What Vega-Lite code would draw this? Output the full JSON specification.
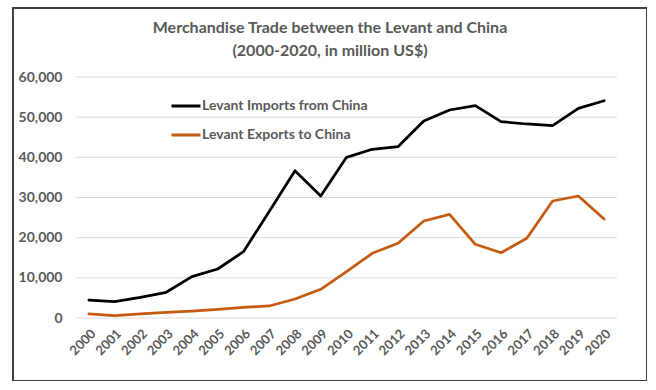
{
  "$schema": "https://vega.github.io/schema/vega-lite/v6.json",
  "autosize": {"type": "none"},
  "padding": {"left": 13, "top": 8, "right": 0, "bottom": 0},
  "width": 634,
  "height": 373,
  "background": "white",
  "title": {
    "text": ["Merchandise Trade between the Levant and China", "(2000-2020, in million US$)"],
    "anchor": "middle",
    "frame": "group",
    "font": "Lato",
    "fontSize": 16,
    "fontWeight": "bold",
    "color": "#595959",
    "lineHeight": 23,
    "offset": -51
  },
  "config": {
    "view": {"stroke": "#404040", "strokeWidth": 2},
    "axis": {"labelFont": "Lato", "labelColor": "#595959", "labelFontWeight": "bold", "labelFontSize": 14, "domain": false, "ticks": false, "grid": false, "title": null},
    "legend": {"labelFont": "Lato", "labelColor": "#595959", "labelFontWeight": "bold", "labelFontSize": 14, "labelLimit": 0}
  },
  "datasets": {
    "trade": [
      {"year": 2000, "series": "Levant Imports from China", "value": 4480},
      {"year": 2001, "series": "Levant Imports from China", "value": 4060},
      {"year": 2002, "series": "Levant Imports from China", "value": 5150},
      {"year": 2003, "series": "Levant Imports from China", "value": 6400},
      {"year": 2004, "series": "Levant Imports from China", "value": 10290},
      {"year": 2005, "series": "Levant Imports from China", "value": 12200},
      {"year": 2006, "series": "Levant Imports from China", "value": 16510},
      {"year": 2007, "series": "Levant Imports from China", "value": 26500},
      {"year": 2008, "series": "Levant Imports from China", "value": 36670},
      {"year": 2009, "series": "Levant Imports from China", "value": 30370},
      {"year": 2010, "series": "Levant Imports from China", "value": 40000},
      {"year": 2011, "series": "Levant Imports from China", "value": 42000},
      {"year": 2012, "series": "Levant Imports from China", "value": 42650},
      {"year": 2013, "series": "Levant Imports from China", "value": 49050},
      {"year": 2014, "series": "Levant Imports from China", "value": 51780},
      {"year": 2015, "series": "Levant Imports from China", "value": 52860},
      {"year": 2016, "series": "Levant Imports from China", "value": 48880},
      {"year": 2017, "series": "Levant Imports from China", "value": 48300},
      {"year": 2018, "series": "Levant Imports from China", "value": 47880},
      {"year": 2019, "series": "Levant Imports from China", "value": 52200},
      {"year": 2020, "series": "Levant Imports from China", "value": 54100},
      {"year": 2000, "series": "Levant Exports to China", "value": 1000},
      {"year": 2001, "series": "Levant Exports to China", "value": 580},
      {"year": 2002, "series": "Levant Exports to China", "value": 1000},
      {"year": 2003, "series": "Levant Exports to China", "value": 1400},
      {"year": 2004, "series": "Levant Exports to China", "value": 1740},
      {"year": 2005, "series": "Levant Exports to China", "value": 2150},
      {"year": 2006, "series": "Levant Exports to China", "value": 2650},
      {"year": 2007, "series": "Levant Exports to China", "value": 2990},
      {"year": 2008, "series": "Levant Exports to China", "value": 4730},
      {"year": 2009, "series": "Levant Exports to China", "value": 7140},
      {"year": 2010, "series": "Levant Exports to China", "value": 11530},
      {"year": 2011, "series": "Levant Exports to China", "value": 16100},
      {"year": 2012, "series": "Levant Exports to China", "value": 18600},
      {"year": 2013, "series": "Levant Exports to China", "value": 24150},
      {"year": 2014, "series": "Levant Exports to China", "value": 25800},
      {"year": 2015, "series": "Levant Exports to China", "value": 18350},
      {"year": 2016, "series": "Levant Exports to China", "value": 16260},
      {"year": 2017, "series": "Levant Exports to China", "value": 19840},
      {"year": 2018, "series": "Levant Exports to China", "value": 29130},
      {"year": 2019, "series": "Levant Exports to China", "value": 30370},
      {"year": 2020, "series": "Levant Exports to China", "value": 24650}
    ],
    "grid": [
      {"g": 0}, {"g": 10000}, {"g": 20000}, {"g": 30000}, {"g": 40000}, {"g": 50000}, {"g": 60000}
    ]
  },
  "layer": [
    {
      "data": {"name": "grid"},
      "mark": {"type": "rule", "color": "#d9d9d9", "strokeWidth": 1},
      "encoding": {
        "x": {"datum": 1999.5, "type": "quantitative", "scale": {"domain": [1999.5, 2020.5], "range": [63, 604], "nice": false, "zero": false},
              "axis": {"values": [2000,2001,2002,2003,2004,2005,2006,2007,2008,2009,2010,2011,2012,2013,2014,2015,2016,2017,2018,2019,2020], "format": ".0f", "labelAngle": -45, "labelFontSize": 13, "labelPadding": 9, "offset": -63, "labelFlush": false, "labelOverlap": false, "labelBound": false}},
        "x2": {"datum": 2020.5},
        "y": {"field": "g", "type": "quantitative", "scale": {"domain": [0, 60000], "range": [310, 69], "nice": false},
              "axis": {"values": [0, 10000, 20000, 30000, 40000, 50000, 60000], "format": ",.0f", "offset": -63, "labelPadding": 14, "labelFlush": false}}
      }
    },
    {
      "data": {"name": "trade"},
      "mark": {"type": "line", "strokeWidth": 2.75, "strokeCap": "round", "strokeJoin": "round"},
      "encoding": {
        "x": {"field": "year", "type": "quantitative",
              "axis": {"values": [2000,2001,2002,2003,2004,2005,2006,2007,2008,2009,2010,2011,2012,2013,2014,2015,2016,2017,2018,2019,2020], "format": ".0f", "labelAngle": -45, "labelFontSize": 13, "labelPadding": 9, "offset": -63, "labelFlush": false, "labelOverlap": false, "labelBound": false}},
        "y": {"field": "value", "type": "quantitative",
              "axis": {"values": [0, 10000, 20000, 30000, 40000, 50000, 60000], "format": ",.0f", "offset": -63, "labelPadding": 14, "labelFlush": false}},
        "color": {
          "field": "series", "type": "nominal",
          "scale": {"domain": ["Levant Imports from China", "Levant Exports to China"], "range": ["#000000", "#c55a11"]},
          "legend": {"title": null, "orient": "none", "legendX": 157, "legendY": 82, "symbolType": "stroke", "symbolSize": 841, "symbolStrokeWidth": 3, "labelOffset": 0, "rowPadding": 6, "padding": 0}
        }
      }
    }
  ]
}
